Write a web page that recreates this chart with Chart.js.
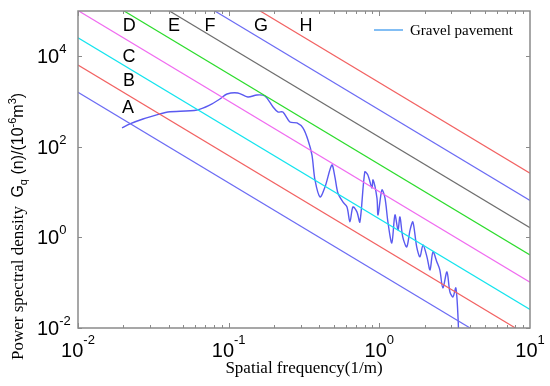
<!DOCTYPE html>
<html>
<head>
<meta charset="utf-8">
<script src="https://cdn.jsdelivr.net/npm/chart.js@4/dist/chart.umd.min.js"></script>
<style>
    html, body { margin: 0; padding: 0; background: #fff; }
    #wrap { width: 550px; height: 386px; }
</style>
</head>
<body>
<div id="wrap"><canvas id="psdChart" width="550" height="386"></canvas></div>
<script>
// road roughness classes (ISO 8608), Gq in 10^-6 m^3, lines drawn between n = 0.01 and n = 10
const classNames = ['A', 'B', 'C', 'D', 'E', 'F', 'G', 'H'];
const lineFreq = [0.01, 10];
const classPsdStart = [1600, 6400, 25600, 102400, 409600, 1638400, 6553600, 26214400];
const classPsdEnd = [0.0016, 0.0064, 0.0256, 0.1024, 0.4096, 1.6384, 6.5536, 26.2144];
const classColors = ['#6c6cf4', '#f26262', '#14e4ee', '#f06cf0', '#2cdc2c', '#6e6e6e', '#6c6cf4', '#f26262'];

// measured spectrum
const gravelLabel = 'Gravel pavement';
const gravelFreq = [
    0.0196, 0.0221, 0.0270, 0.0350, 0.0395, 0.0617, 0.0752, 0.0875, 0.0975, 0.115,
    0.134, 0.154, 0.174, 0.197, 0.212, 0.229, 0.255, 0.284, 0.311, 0.336,
    0.357, 0.374, 0.404, 0.436, 0.484, 0.507, 0.531, 0.573, 0.610, 0.638,
    0.668, 0.710, 0.743, 0.801, 0.839, 0.893, 0.908, 0.964, 0.980, 1.04,
    1.09, 1.14, 1.21, 1.27, 1.33, 1.37, 1.43, 1.52, 1.60, 1.67,
    1.77, 1.86, 1.95, 2.07, 2.17, 2.27, 2.41, 2.52, 2.64, 2.81,
    2.94, 3.08, 3.22, 3.33, 3.37,
];
const gravelPsd = [
    261, 321, 413, 532, 589, 653, 841, 1140, 1470, 1550,
    1260, 1400, 1330, 760, 589, 589, 355, 337, 261, 142,
    66.2, 18.6, 7.83, 13.0, 39.8, 21.7, 9.60, 6.08, 4.71, 2.20,
    4.71, 3.66, 2.20, 27.9, 24.0, 12.4, 18.6, 7.45, 3.14, 11.2,
    7.45, 2.20, 0.757, 3.14, 1.47, 2.84, 1.03, 0.617, 1.47, 2.20,
    0.617, 0.372, 0.683, 0.372, 0.192, 0.479, 0.288, 0.192, 0.0767, 0.173,
    0.0627, 0.0486, 0.0767, 0.0167, 0.005,
];

const xTickValues = [0.01, 0.1, 1, 10];
const xTickExponents = ['-2', '-1', '0', '1'];
const yTickValues = [0.01, 1, 100, 10000];
const yTickExponents = ['-2', '0', '2', '4'];

const xTitle = 'Spatial frequency(1/m)';

function drawParts(ctx, parts, x, y) {
    let cx = x;
    parts.forEach((p) => {
        ctx.font = p.font;
        ctx.fillText(p.text, cx, y + (p.dy || 0));
        cx += ctx.measureText(p.text).width;
    });
    return cx;
}

function partsWidth(ctx, parts) {
    let w = 0;
    parts.forEach((p) => {
        ctx.font = p.font;
        w += ctx.measureText(p.text).width;
    });
    return w;
}

const decorations = {
    id: 'decorations',
    afterDatasetsDraw(chart) {
        const { ctx, chartArea: a, scales: { x, y } } = chart;
        ctx.save();

        // frame
        ctx.strokeStyle = '#8a8a8a';
        ctx.lineWidth = 1.5;
        ctx.strokeRect(a.left, a.top, a.right - a.left, a.bottom - a.top);

        // x ticks (major + minor), bottom and top
        ctx.lineWidth = 1;
        ctx.beginPath();
        for (let d = -2; d <= 0; d++) {
            for (let m = 1; m < 10; m++) {
                const px = Math.round(x.getPixelForValue(m * Math.pow(10, d))) + 0.5;
                const len = m === 1 ? 5 : 3;
                ctx.moveTo(px, a.bottom);
                ctx.lineTo(px, a.bottom - len);
                ctx.moveTo(px, a.top);
                ctx.lineTo(px, a.top + len);
            }
        }
        // y ticks, left and right
        yTickValues.forEach((v) => {
            const py = Math.round(y.getPixelForValue(v)) + 0.5;
            ctx.moveTo(a.left, py);
            ctx.lineTo(a.left + 4, py);
            ctx.moveTo(a.right, py);
            ctx.lineTo(a.right - 4, py);
        });
        ctx.stroke();

        // tick labels
        ctx.fillStyle = '#000';
        ctx.textAlign = 'left';
        ctx.textBaseline = 'alphabetic';
        xTickValues.forEach((v, i) => {
            const parts = [
                { text: '10', font: '20px "Liberation Sans"' },
                { text: xTickExponents[i], font: '13px "Liberation Sans"', dy: -13 },
            ];
            const w = partsWidth(ctx, parts);
            drawParts(ctx, parts, x.getPixelForValue(v) - w / 2, a.bottom + 29);
        });
        yTickValues.forEach((v, i) => {
            const parts = [
                { text: '10', font: '20px "Liberation Sans"' },
                { text: yTickExponents[i], font: '13px "Liberation Sans"', dy: -10 },
            ];
            drawParts(ctx, parts, 37, y.getPixelForValue(v) + 7);
        });

        // class labels, anchored in data coordinates
        const labelAnchors = [
            [0.0215, 723], [0.0218, 2850], [0.0218, 9660], [0.0219, 46600],
            [0.0434, 46600], [0.0752, 46600], [0.164, 46600], [0.326, 46600],
        ];
        ctx.font = '18px "Liberation Sans"';
        ctx.textAlign = 'center';
        ctx.textBaseline = 'middle';
        classNames.forEach((name, i) => {
            ctx.fillText(name, x.getPixelForValue(labelAnchors[i][0]), y.getPixelForValue(labelAnchors[i][1]));
        });

        // legend
        ctx.strokeStyle = '#5aa8f0';
        ctx.lineWidth = 1.5;
        ctx.beginPath();
        ctx.moveTo(a.right - 156, a.top + 19);
        ctx.lineTo(a.right - 127, a.top + 19);
        ctx.stroke();
        ctx.font = '15px "Liberation Serif"';
        ctx.textAlign = 'left';
        ctx.textBaseline = 'alphabetic';
        ctx.fillText(gravelLabel, a.right - 120, a.top + 24);

        // axis titles
        ctx.font = '17px "Liberation Serif"';
        ctx.textAlign = 'center';
        ctx.fillText(xTitle, (a.left + a.right) / 2, 373);

        ctx.translate(23, 360);
        ctx.rotate(-Math.PI / 2);
        ctx.textAlign = 'left';
        const sans = '"Liberation Sans"';
        drawParts(ctx, [
            { text: 'Power spectral density  ', font: '17px "Liberation Serif"' },
            { text: 'G', font: '16px ' + sans },
            { text: 'q', font: '11px ' + sans, dy: 4 },
            { text: ' (n)/(10', font: '16px ' + sans },
            { text: '-6', font: '11px ' + sans, dy: -7 },
            { text: 'm', font: '16px ' + sans },
            { text: '3', font: '11px ' + sans, dy: -7 },
            { text: ')', font: '16px ' + sans },
        ], 0, 0);

        ctx.restore();
    },
};

const datasets = classNames.map((name, i) => ({
    label: name,
    data: lineFreq.map((f, j) => ({ x: f, y: j === 0 ? classPsdStart[i] : classPsdEnd[i] })),
    borderColor: classColors[i],
    borderWidth: 1.2,
    pointRadius: 0,
}));

datasets.push({
    label: gravelLabel,
    data: gravelFreq.map((f, i) => ({ x: f, y: gravelPsd[i] })),
    borderColor: '#5a5af0',
    borderWidth: 1.4,
    pointRadius: 0,
    tension: 0.3,
});

new Chart(document.getElementById('psdChart'), {
    type: 'line',
    data: { datasets },
    options: {
        responsive: false,
        animation: false,
        layout: {
            padding: { left: 78, top: 11, right: 20, bottom: 58 },
        },
        plugins: {
            legend: { display: false },
            tooltip: { enabled: false },
        },
        scales: {
            x: { type: 'logarithmic', min: 0.01, max: 10, display: false },
            y: { type: 'logarithmic', min: 0.01, max: 100000, display: false },
        },
    },
    plugins: [decorations],
});
</script>
</body>
</html>
